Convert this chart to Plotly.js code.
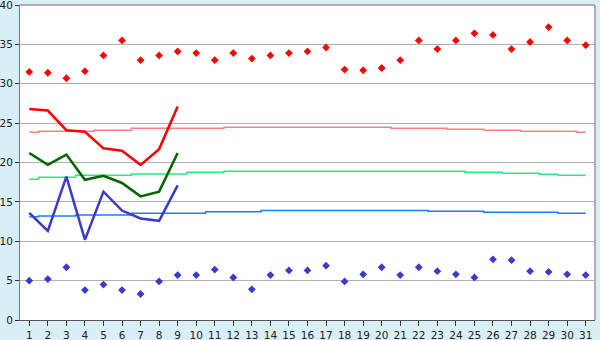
<!DOCTYPE html>
<html>
<head>
<meta charset="utf-8">
<script src="https://cdn.plot.ly/plotly-3.0.1.min.js"></script>
<style>html,body{margin:0;padding:0;background:#d9eff6;}#chart{width:600px;height:340px;}</style>
</head>
<body>
<div id="chart"></div>
<script>
const days = Array.from({length: 31}, (_, i) => i + 1);
const lineDays = [1, 2, 3, 4, 5, 6, 7, 8, 9];

const maxPoints = [31.5, 31.4, 30.7, 31.6, 33.6, 35.5, 33.0, 33.6, 34.1, 33.9,
  33.0, 33.9, 33.2, 33.6, 33.9, 34.1, 34.6, 31.8, 31.7, 32.0,
  33.0, 35.5, 34.4, 35.5, 36.4, 36.2, 34.4, 35.3, 37.2, 35.5, 34.9];
const minPoints = [5.0, 5.2, 6.7, 3.8, 4.5, 3.8, 3.3, 4.9, 5.7, 5.7,
  6.4, 5.4, 3.9, 5.7, 6.3, 6.3, 6.9, 4.9, 5.8, 6.7,
  5.7, 6.7, 6.2, 5.8, 5.4, 7.7, 7.6, 6.2, 6.1, 5.8, 5.7];

const maxLine = [26.8, 26.6, 24.1, 23.9, 21.8, 21.5, 19.7, 21.7, 27.1];
const meanLine = [21.2, 19.7, 21.0, 17.8, 18.3, 17.4, 15.7, 16.3, 21.2];
const minLine = [13.6, 11.3, 18.2, 10.2, 16.3, 13.9, 12.9, 12.6, 17.1];

const maxNormal = [23.83, 23.96, 23.96, 23.96, 24.08, 24.08, 24.34, 24.34, 24.34, 24.34,
  24.34, 24.47, 24.47, 24.47, 24.47, 24.47, 24.47, 24.47, 24.47, 24.47,
  24.34, 24.34, 24.34, 24.21, 24.21, 24.08, 24.08, 23.96, 23.96, 23.96, 23.83];
const meanNormal = [17.87, 18.12, 18.12, 18.37, 18.37, 18.37, 18.55, 18.55, 18.55, 18.75,
  18.75, 18.88, 18.88, 18.88, 18.88, 18.88, 18.88, 18.88, 18.88, 18.88,
  18.88, 18.88, 18.88, 18.88, 18.75, 18.75, 18.63, 18.63, 18.50, 18.37, 18.37];
const minNormal = [13.12, 13.2, 13.2, 13.33, 13.33, 13.33, 13.55, 13.55, 13.55, 13.55,
  13.75, 13.75, 13.75, 13.9, 13.9, 13.9, 13.9, 13.9, 13.9, 13.9,
  13.9, 13.9, 13.8, 13.8, 13.8, 13.67, 13.67, 13.67, 13.67, 13.55, 13.55];

const yTicks = [0, 5, 10, 15, 20, 25, 30, 35, 40];

const traces = [
  {x: days, y: maxNormal, mode: 'lines', line: {color: '#ff8080', width: 1.5, shape: 'hvh'}},
  {x: days, y: meanNormal, mode: 'lines', line: {color: '#22ee80', width: 1.5, shape: 'hvh'}},
  {x: days, y: minNormal, mode: 'lines', line: {color: '#1a7fff', width: 1.5, shape: 'hvh'}},
  {x: lineDays, y: maxLine, mode: 'lines', line: {color: '#ff0000', width: 2.5}},
  {x: lineDays, y: meanLine, mode: 'lines', line: {color: '#006600', width: 2.5}},
  {x: lineDays, y: minLine, mode: 'lines', line: {color: '#3a3acc', width: 2.5}},
  {x: days, y: maxPoints, mode: 'markers', marker: {symbol: 'diamond', size: 6, color: '#ff0000'}},
  {x: days, y: minPoints, mode: 'markers', marker: {symbol: 'diamond', size: 6, color: '#3a3acc'}}
];

const layout = {
  width: 600, height: 340,
  margin: {l: 20, r: 5, t: 5, b: 20, pad: 0},
  paper_bgcolor: '#d9eff6',
  plot_bgcolor: '#ffffff',
  showlegend: false,
  font: {family: 'DejaVu Sans', size: 10, color: '#222222'},
  xaxis: {
    range: [0.5, 31.5], tickmode: 'array', tickvals: days, ticktext: days.map(String),
    ticks: 'outside', ticklen: 5, tickcolor: '#333', showgrid: false, zeroline: false,
    showline: true, linecolor: '#555', linewidth: 1, fixedrange: true,
    ticklabeloverflow: 'allow', tickfont: {size: 10.5}
  },
  yaxis: {
    range: [0, 40], tickmode: 'array', tickvals: yTicks, ticktext: yTicks.map(String),
    ticks: 'outside', ticklen: 4, tickcolor: '#333', showgrid: true, gridcolor: '#b0b0b0', gridwidth: 1,
    zeroline: false, showline: true, linecolor: '#777', linewidth: 1, fixedrange: true,
    ticklabeloverflow: 'allow', tickfont: {size: 10.5}
  },
  shapes: [
    {type: 'line', xref: 'paper', yref: 'paper', x0: 1, x1: 1, y0: 0, y1: 1, line: {color: '#b0b0b0', width: 2}},
    {type: 'line', xref: 'paper', yref: 'paper', x0: 0, x1: 1, y0: 1, y1: 1, line: {color: '#b0b0b0', width: 2}}
  ]
};

Plotly.newPlot('chart', traces, layout, {displayModeBar: false, staticPlot: true});
</script>
</body>
</html>
